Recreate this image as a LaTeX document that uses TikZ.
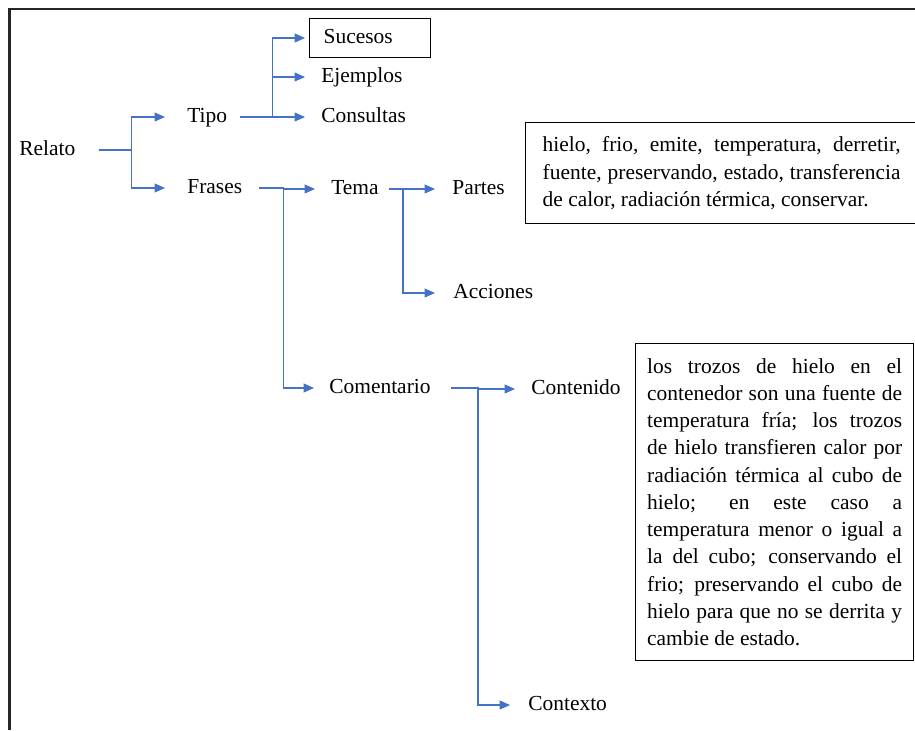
\documentclass[tikz,border=0pt]{standalone}
\usepackage{fontspec}
\setmainfont{Liberation Serif}
\usetikzlibrary{arrows.meta}
\definecolor{azul}{HTML}{4472C4}
\tolerance=10000
\hyphenpenalty=10000

\begin{document}
\begin{tikzpicture}[x=0.02cm,y=-0.02cm,font=\fontsize{12.2}{15.5}\selectfont,
    >={Triangle[length=0.21cm,width=0.18cm]},
    rama/.style={->,draw=azul,line width=0.7pt,shorten <=0.3cm,shorten >=0.32cm},
    texto/.style={anchor=west,inner sep=0pt,text height=0.3cm,text depth=0.08cm},
    caja/.style={draw,line width=0.8pt,align=justify,anchor=north west}]
\useasboundingbox (0,0) rectangle (915,730);
\draw[black!85,line width=1.2pt] (9.5,730) |- (915,9);

\node[texto] (relato) at (19,150) {Relato};
\node[texto] (tipo) at (187,117) {Tipo};
\node[texto] (frases) at (187,188) {Frases};
\node[texto,draw,line width=0.8pt,inner xsep=0.28cm,text width=1.86cm,align=left,minimum height=0.78cm] (sucesos) at (309,38) {Sucesos};
\node[texto] (ejemplos) at (321,77) {Ejemplos};
\node[texto] (consultas) at (321,117) {Consultas};
\node[texto] (tema) at (331,189) {Tema};
\node[texto] (partes) at (452,189) {Partes};
\node[texto] (acciones) at (453,293) {Acciones};
\node[texto] (comentario) at (329,388) {Comentario};
\node[texto] (contenido) at (531,389) {Contenido};
\node[texto] (contexto) at (528,705) {Contexto};

\node[caja,text width=7.16cm,inner xsep=0.34cm,minimum height=2.02cm] (palabras) at (525,122)
    {hielo, frio, emite, temperatura, derretir,\linebreak fuente, preservando, estado, transferencia\linebreak de calor, radiación térmica, conservar.};
\node[caja,text width=5.1cm,inner xsep=0.23cm,minimum height=6.34cm] (descripcion) at (635,343)
    {los trozos de hielo en el\linebreak contenedor son una fuente de\linebreak temperatura fría; los trozos\linebreak de hielo transfieren calor por\linebreak radiación térmica al cubo de\linebreak hielo; en este caso a\linebreak temperatura menor o igual a\linebreak la del cubo; conservando el\linebreak frio; preservando el cubo de\linebreak hielo para que no se derrita y\linebreak cambie de estado.};

\draw[rama,shorten <=0.46cm,shorten >=0.44cm] (relato.east) -- ++(56,0) |- (tipo.west);
\draw[rama,shorten <=0.46cm,shorten >=0.44cm] (relato.east) -- ++(56,0) |- (frases.west);
\foreach \hijo/\dist in {sucesos/0.08,ejemplos/0.32,consultas/0.32}
    \draw[rama,shorten <=0.26cm,shorten >=\dist cm] (tipo.east) -- ++(45,0) |- (\hijo.west);
\draw[rama,shorten <=0.34cm] (frases.east) -- ++(41,0) |- (tema.west);
\draw[rama,shorten <=0.34cm,shorten >=0.3cm] (frases.east) -- ++(41,0) |- (comentario.west);
\draw[rama,shorten <=0.2cm,shorten >=0.34cm] (tema.east) -- ++(24,0) |- (partes.west);
\draw[rama,shorten <=0.2cm,shorten >=0.36cm] (tema.east) -- ++(24,0) |- (acciones.west);
\draw[rama,shorten <=0.4cm] (comentario.east) -- ++(47,0) |- (contenido.west);
\draw[rama,shorten <=0.4cm,shorten >=0.36cm] (comentario.east) -- ++(47,0) |- (contexto.west);
\end{tikzpicture}
\end{document}
